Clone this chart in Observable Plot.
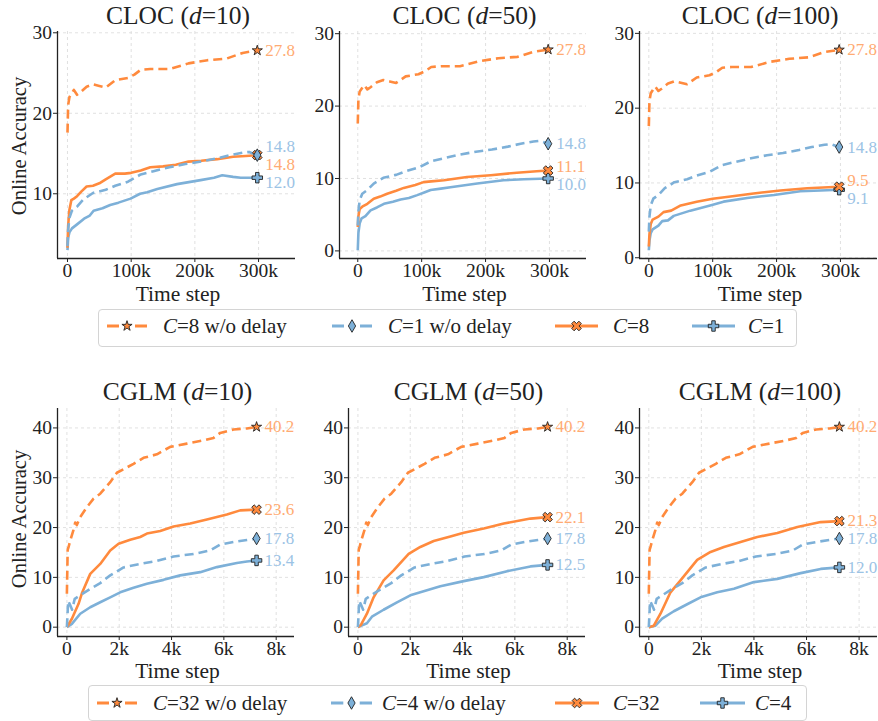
<!DOCTYPE html>
<html><head><meta charset="utf-8">
<script src="https://cdn.jsdelivr.net/npm/d3@7"></script>
<script src="https://cdn.jsdelivr.net/npm/@observablehq/plot@0.6"></script>
<style>
body{margin:0;background:#fff;overflow:hidden}
#root{position:relative;width:878px;height:721px;font-family:"Liberation Serif",serif;color:#222;overflow:hidden}
.abs{position:absolute;white-space:nowrap;line-height:1}
.title{font-size:25.5px;transform:translate(-50%,-50%)}
.xlab{font-size:21.5px;transform:translate(-50%,-50%)}
.ylab{font-size:20.5px;transform:translate(-50%,-50%) rotate(-90deg)}
.legend{position:absolute;border:1px solid #d4d4d4;border-radius:4px;background:#fff}
.ltext{font-size:21px;transform:translateY(-50%)}
</style></head><body><div id="root"></div>
<script>
// ---------------- data ----------------
const panelTitles = ["CLOC", "CLOC", "CLOC", "CGLM", "CGLM", "CGLM"];
const panelDelays = [10, 50, 100, 10, 50, 100];
const clocLegend = ["=8 w/o delay", "=1 w/o delay", "=8", "=1"];
const cglmLegend = ["=32 w/o delay", "=4 w/o delay", "=32", "=4"];
const clocXTicks = [0, 100000, 200000, 300000];
const cglmXTicks = [0, 2000, 4000, 6000, 8000];
const clocYTicksD10 = [10, 20, 30];
const clocYTicks = [0, 10, 20, 30];
const cglmYTicks = [0, 10, 20, 30, 40];

// CLOC, no-delay baselines (shared by the three CLOC panels)
const clocNd8T = [0, 1000, 3000, 6000, 10000, 15000, 20000, 30000, 40000, 50000, 60000, 75000, 95000, 105000, 115000, 130000, 160000, 190000, 220000, 250000, 275000, 298000];
const clocNd8V = [17.6, 21.0, 22.0, 22.4, 22.9, 22.3, 22.6, 23.3, 23.6, 23.4, 23.2, 24.1, 24.4, 24.8, 25.4, 25.5, 25.5, 26.2, 26.6, 26.8, 27.5, 27.8];
const clocNd1T = [0, 1000, 3000, 7000, 15000, 25000, 40000, 60000, 75000, 95000, 115000, 135000, 160000, 185000, 210000, 235000, 255000, 275000, 285000, 298000];
const clocNd1V = [3.5, 5.5, 7.0, 7.9, 8.4, 9.3, 10.1, 10.5, 11.0, 11.5, 12.4, 12.8, 13.3, 13.7, 14.0, 14.4, 14.8, 15.1, 15.2, 14.8];
// CLOC d=10
const cloc10C8T = [0, 1000, 3000, 6000, 10000, 15000, 22000, 30000, 40000, 50000, 60000, 75000, 90000, 100000, 115000, 130000, 150000, 170000, 190000, 210000, 235000, 260000, 280000, 298000];
const cloc10C8V = [3.3, 6.0, 8.0, 9.2, 9.4, 9.7, 10.3, 10.9, 11.0, 11.3, 11.8, 12.5, 12.5, 12.6, 12.9, 13.3, 13.4, 13.6, 14.0, 14.1, 14.3, 14.6, 14.7, 14.8];
const cloc10C1T = [0, 1000, 3000, 7000, 15000, 26000, 35000, 41000, 55000, 67000, 80000, 99000, 114000, 125000, 141000, 172000, 209000, 230000, 243000, 260000, 272000, 298000];
const cloc10C1V = [3.0, 4.5, 5.2, 5.7, 6.2, 6.9, 7.3, 7.9, 8.2, 8.6, 8.9, 9.4, 10.0, 10.2, 10.6, 11.2, 11.7, 12.0, 12.3, 12.1, 12.0, 12.0];
// CLOC d=50
const cloc50C8T = [0, 1000, 3000, 7000, 15000, 25000, 35000, 46000, 60000, 72000, 90000, 103000, 115000, 135000, 171000, 208000, 249000, 280000, 298000];
const cloc50C8V = [3.3, 4.8, 5.8, 6.1, 6.5, 7.2, 7.5, 7.9, 8.3, 8.7, 9.1, 9.5, 9.6, 9.75, 10.2, 10.45, 10.8, 11.0, 11.1];
const cloc50C1T = [0, 1000, 3000, 6000, 12000, 20000, 30000, 41000, 55000, 67000, 80000, 93000, 105000, 114000, 130000, 145000, 187000, 228000, 260000, 298000];
const cloc50C1V = [0.1, 2.5, 3.8, 4.5, 4.8, 5.6, 6.0, 6.5, 6.8, 7.1, 7.3, 7.7, 8.1, 8.4, 8.6, 8.8, 9.3, 9.75, 9.9, 10.0];
// CLOC d=100
const cloc100C8T = [0, 1000, 3000, 6000, 15000, 23000, 35000, 50000, 75000, 100000, 128000, 164000, 206000, 248000, 298000];
const cloc100C8V = [1.5, 3.2, 4.5, 5.1, 5.5, 6.1, 6.3, 7.0, 7.5, 7.9, 8.2, 8.6, 9.0, 9.3, 9.5];
const cloc100C1T = [0, 1000, 3000, 6000, 15000, 21000, 30000, 39000, 65000, 96000, 117000, 154000, 196000, 237000, 269000, 298000];
const cloc100C1V = [1.0, 2.3, 3.3, 3.8, 4.3, 4.9, 5.0, 5.6, 6.3, 7.0, 7.5, 8.0, 8.4, 8.9, 9.0, 9.1];

// CGLM, no-delay baselines (shared by the three CGLM panels)
const cglmNd32T = [0, 30, 60, 127, 250, 318, 380, 510, 764, 1019, 1274, 1656, 1911, 2200, 2548, 2930, 3440, 3949, 4586, 5223, 5605, 5860, 6370, 6880, 7250];
const cglmNd32V = [6.7, 15.5, 16.0, 17.4, 19.5, 21.0, 20.5, 22.1, 24.1, 25.8, 26.8, 29.1, 31.0, 31.8, 32.8, 34.0, 34.7, 36.2, 36.85, 37.5, 38.0, 39.0, 39.7, 39.9, 40.2];
const cglmNd4T = [0, 50, 120, 200, 300, 510, 892, 1274, 1656, 2166, 2803, 3440, 4077, 4841, 5478, 5860, 6370, 6880, 7250];
const cglmNd4V = [0, 5.3, 4.5, 3.5, 5.7, 6.4, 7.7, 8.85, 10.4, 12.0, 12.7, 13.3, 14.2, 14.7, 15.4, 16.6, 17.1, 17.5, 17.8];
// CGLM d=10
const cglm10C32T = [0, 191, 446, 573, 892, 1274, 1656, 1975, 2420, 2803, 3058, 3567, 4077, 4714, 5351, 6115, 6624, 7250];
const cglm10C32V = [0, 1.7, 4.7, 6.8, 10.7, 12.7, 15.4, 16.75, 17.55, 18.1, 18.8, 19.3, 20.2, 20.8, 21.6, 22.6, 23.45, 23.6];
const cglm10C4T = [0, 191, 510, 892, 1274, 1656, 2038, 2548, 3058, 3694, 4331, 5096, 5733, 6497, 6880, 7250];
const cglm10C4V = [0, 0.67, 2.7, 4.0, 5.0, 6.0, 7.0, 7.9, 8.7, 9.5, 10.4, 11.05, 12.06, 12.9, 13.2, 13.4];
// CGLM d=50
const cglm50C32T = [0, 120, 344, 600, 982, 1365, 1940, 2386, 2897, 3535, 4045, 4810, 5576, 6597, 7250];
const cglm50C32V = [0, 0.5, 2.7, 6.0, 9.4, 11.4, 14.7, 16.1, 17.3, 18.2, 18.96, 19.8, 20.8, 21.8, 22.1];
const cglm50C4T = [0, 344, 536, 982, 1493, 2003, 2641, 3152, 4045, 4810, 5704, 6597, 7250];
const cglm50C4V = [0, 0.8, 2.1, 3.5, 5.0, 6.4, 7.4, 8.2, 9.25, 10.05, 11.25, 12.2, 12.5];
// CGLM d=100
const cglm100C32T = [0, 190, 444, 825, 1206, 1841, 2349, 2857, 3492, 4127, 4889, 5651, 6540, 7250];
const cglm100C32V = [0, 0.3, 2.7, 7.0, 9.4, 13.5, 15.1, 16.1, 17.1, 18.1, 18.9, 20.1, 21.1, 21.3];
const cglm100C4T = [0, 254, 508, 952, 1460, 1968, 2603, 3238, 4000, 4889, 5778, 6540, 7250];
const cglm100C4V = [0, 0.3, 1.7, 3.2, 4.6, 6.0, 7.0, 7.7, 9.05, 9.7, 10.85, 11.7, 12.0];

// ---------------- style ----------------
const ORANGE = "#ff8a3d", BLUE = "#7db0d8";
const ORANGE_TXT = "#ffab73", BLUE_TXT = "#9cc3e5";
const FONT = "'Liberation Serif', serif";

const symX = { draw(ctx, size) {
  const r = Math.sqrt(size / 5) / 2;
  const pts = [[-3*r,-r],[-r,-r],[-r,-3*r],[r,-3*r],[r,-r],[3*r,-r],[3*r,r],[r,r],[r,3*r],[-r,3*r],[-r,r],[-3*r,r]];
  const c = Math.SQRT1_2;
  pts.forEach(([x, y], i) => { const X = (x - y) * c, Y = (x + y) * c; i ? ctx.lineTo(X, Y) : ctx.moveTo(X, Y); });
  ctx.closePath();
}};
const styles = [
  {color: ORANGE, txt: ORANGE_TXT, dash: "9,5", sym: d3.symbolStar, r: 3.2, d3sym: d3.symbolStar},
  {color: BLUE, txt: BLUE_TXT, dash: "9,5", sym: d3.symbolDiamond, r: 3.8, d3sym: d3.symbolDiamond},
  {color: ORANGE, txt: ORANGE_TXT, dash: null, sym: symX, r: 4.3, d3sym: symX},
  {color: BLUE, txt: BLUE_TXT, dash: null, sym: d3.symbolCross, r: 4.4, d3sym: d3.symbolCross}
];

const zip = (T, V) => T.map((t, i) => ({t, v: V[i]}));
const panelSeries = [
  [zip(clocNd8T, clocNd8V), zip(clocNd1T, clocNd1V), zip(cloc10C8T, cloc10C8V), zip(cloc10C1T, cloc10C1V)],
  [zip(clocNd8T, clocNd8V), zip(clocNd1T, clocNd1V), zip(cloc50C8T, cloc50C8V), zip(cloc50C1T, cloc50C1V)],
  [zip(clocNd8T, clocNd8V), zip(clocNd1T, clocNd1V), zip(cloc100C8T, cloc100C8V), zip(cloc100C1T, cloc100C1V)],
  [zip(cglmNd32T, cglmNd32V), zip(cglmNd4T, cglmNd4V), zip(cglm10C32T, cglm10C32V), zip(cglm10C4T, cglm10C4V)],
  [zip(cglmNd32T, cglmNd32V), zip(cglmNd4T, cglmNd4V), zip(cglm50C32T, cglm50C32V), zip(cglm50C4T, cglm50C4V)],
  [zip(cglmNd32T, cglmNd32V), zip(cglmNd4T, cglmNd4V), zip(cglm100C32T, cglm100C32V), zip(cglm100C4T, cglm100C4V)]
];

// layout (frame pixel boxes and axis limits)
const layout = [
  {L: 57, R: 295, T: 31, B: 258, x: [-15700, 358000], y: [1.96, 30.16], xt: clocXTicks, yt: clocYTicksD10},
  {L: 339, R: 586, T: 31, B: 258, x: [-28600, 358000], y: [-1.05, 30.3], xt: clocXTicks, yt: clocYTicks},
  {L: 639, R: 877, T: 31, B: 258, x: [-14600, 358000], y: [-0.1, 30.25], xt: clocXTicks, yt: clocYTicks},
  {L: 57, R: 294, T: 408, B: 636, x: [-359, 8700], y: [-1.87, 43.9], xt: cglmXTicks, yt: cglmYTicks},
  {L: 348, R: 585, T: 408, B: 636, x: [-360, 8700], y: [-1.87, 43.9], xt: cglmXTicks, yt: cglmYTicks},
  {L: 639, R: 877, T: 408, B: 636, x: [-354, 8700], y: [-1.87, 43.9], xt: cglmXTicks, yt: cglmYTicks}
];

const root = document.getElementById("root");
function addDiv(cls, html, x, y, extra) {
  const d = document.createElement("div");
  d.className = "abs " + cls;
  d.innerHTML = html;
  d.style.left = x + "px"; d.style.top = y + "px";
  if (extra) Object.assign(d.style, extra);
  root.appendChild(d);
  return d;
}
const kfmt = d => d === 0 ? "0" : (d / 1000) + "k";

function dodge(vals, ppu, gap) {
  const s = vals.map((v, i) => ({i, p: -v * ppu, p0: -v * ppu})).sort((a, b) => (a.p - b.p) || (a.i - b.i));
  for (let k = 0; k < 40; k++) {
    for (let j = 1; j < s.length; j++) {
      const g = s[j].p - s[j - 1].p;
      if (g < gap - 1e-6) { const m = (gap - g) / 2; s[j - 1].p -= m; s[j].p += m; }
    }
  }
  const dy = [];
  s.forEach(o => { dy[o.i] = o.p - o.p0 + (Math.abs(o.p - o.p0) > 0.5 ? 1.5 : 0); });
  return dy;
}

const mL = 45, mR = 5, mT = 5, mB = 28;
layout.forEach((lay, k) => {
  const series = panelSeries[k];
  const ppu = (lay.B - lay.T) / (lay.y[1] - lay.y[0]);
  const ends = series.map(s => s[s.length - 1]);
  const dys = dodge(ends.map(e => e.v), ppu, 18);
  const marks = [
    Plot.ruleX(lay.xt, {stroke: "#d9d9d9", strokeDasharray: "3,3", strokeWidth: 0.8}),
    Plot.ruleY(lay.yt, {stroke: "#d9d9d9", strokeDasharray: "3,3", strokeWidth: 0.8}),
    Plot.ruleX([lay.x[0]], {stroke: "#222", strokeWidth: 1.3}),
    Plot.ruleY([lay.y[0]], {stroke: "#222", strokeWidth: 1.3})
  ];
  [3, 2, 1, 0].forEach(i => {
    const st = styles[i];
    marks.push(Plot.line(series[i], {x: "t", y: "v", stroke: st.color, strokeWidth: 2.6,
      strokeDasharray: st.dash || undefined, strokeLinejoin: "round", strokeLinecap: "butt"}));
  });
  [3, 2, 1, 0].forEach(i => {
    const st = styles[i];
    marks.push(Plot.dot([ends[i]], {x: "t", y: "v", symbol: st.sym, r: st.r, fill: st.color, stroke: "#222", strokeWidth: 0.9}));
    marks.push(Plot.text([ends[i]], {x: "t", y: "v", text: d => d.v.toFixed(1), dx: 8, dy: dys[i],
      textAnchor: "start", fill: st.txt, fontSize: 17}));
  });
  const svg = Plot.plot({
    width: lay.R - lay.L + mL + mR,
    height: lay.B - lay.T + mT + mB,
    marginLeft: mL, marginRight: mR, marginTop: mT, marginBottom: mB,
    x: {domain: lay.x, ticks: lay.xt, tickFormat: kfmt, tickSize: 4, tickPadding: 1, label: null},
    y: {domain: lay.y, ticks: lay.yt, tickFormat: d => String(d), tickSize: 4, tickPadding: 1.5, label: null},
    style: {background: "transparent", overflow: "visible", fontFamily: FONT, fontSize: "19.5px", color: "#222"},
    marks
  });
  svg.style.position = "absolute";
  svg.style.left = (lay.L - mL) + "px";
  svg.style.top = (lay.T - mT) + "px";
  svg.style.maxWidth = "none";
  root.appendChild(svg);

  const cx = (lay.L + lay.R) / 2;
  const top = k < 3;
  addDiv("title", panelTitles[k] + " (<i>d</i>=" + panelDelays[k] + ")", cx + 2, top ? 16 : 392);
  addDiv("xlab", "Time step", cx + 2, top ? 295 : 672);
});
addDiv("ylab", "Online Accuracy", 19, 146);
addDiv("ylab", "Online Accuracy", 19, 519);

// legends
function legend(box, items, labels) {
  const lg = document.createElement("div");
  lg.className = "legend";
  Object.assign(lg.style, {left: box.l + "px", top: box.t + "px", width: (box.r - box.l) + "px", height: (box.b - box.t) + "px"});
  root.appendChild(lg);
  items.forEach((it, i) => {
    const st = styles[i];
    const w = it.x1 - it.x0;
    const sw = d3.create("svg").attr("width", w + 20).attr("height", 20)
      .style("position", "absolute").style("left", (it.x0 - 10) + "px").style("top", (box.cy - 10) + "px").style("overflow", "visible");
    sw.append("line").attr("x1", 10).attr("x2", 10 + w).attr("y1", 10).attr("y2", 10)
      .attr("stroke", st.color).attr("stroke-width", 3.2)
      .attr("stroke-dasharray", st.dash ? `${w * 0.3},${w * 0.4}` : null);
    sw.append("path").attr("transform", `translate(${10 + w / 2},10)`)
      .attr("d", d3.symbol(st.d3sym, Math.PI * st.r * st.r)())
      .attr("fill", st.color).attr("stroke", "#222").attr("stroke-width", 0.9);
    root.appendChild(sw.node());
    addDiv("ltext", "<i>C</i>" + labels[i], it.tx, box.cy);
  });
}
legend({l: 98, r: 795, t: 309, b: 345, cy: 326}, [
  {x0: 107, x1: 147, tx: 163}, {x0: 332, x1: 372, tx: 388}, {x0: 555, x1: 598, tx: 613}, {x0: 692, x1: 735, tx: 748}
], clocLegend);
legend({l: 88, r: 805, t: 685, b: 719, cy: 703}, [
  {x0: 97, x1: 137, tx: 153}, {x0: 331, x1: 372, tx: 382}, {x0: 555, x1: 599, tx: 613}, {x0: 700, x1: 745, tx: 755}
], cglmLegend);
</script></body></html>
